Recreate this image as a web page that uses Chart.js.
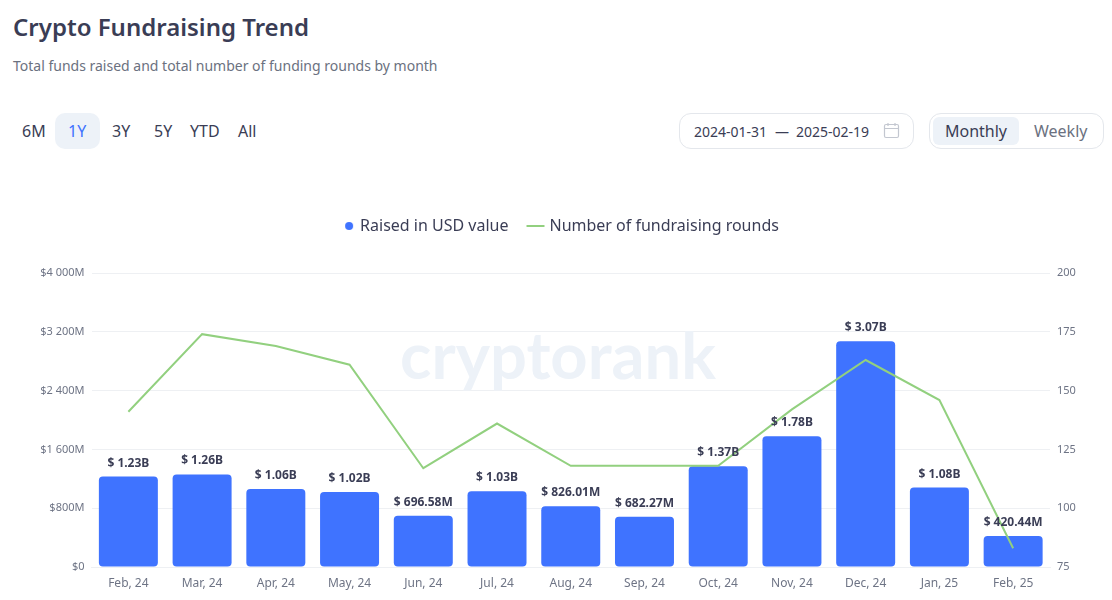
<!DOCTYPE html>
<html>
<head>
<meta charset="utf-8">
<title>Crypto Fundraising Trend</title>
<script src="https://cdn.jsdelivr.net/npm/chart.js@4"></script>
<style>
  html, body { margin: 0; padding: 0; background: #fff; }
  body { width: 1112px; height: 600px; position: relative; overflow: hidden; font-family: "Noto Sans", sans-serif; color: #3a3d55; }
  .abs { position: absolute; white-space: nowrap; }
  h1 { margin: 0; left: 13px; top: 10px; font-size: 24px; line-height: 33px; font-weight: 600; }
  .sub { left: 13px; top: 56px; font-size: 14px; line-height: 20px; color: #6b7180; }
  .range { top: 120px; font-size: 16px; line-height: 22px; }
  .active-bg { left: 55px; top: 113px; width: 45px; height: 36px; border-radius: 10px; background: #edf2f8; }
  .box { top: 113px; height: 34px; border: 1px solid #e4e7ec; border-radius: 12px; }
  .date { top: 122px; font-size: 14px; line-height: 19px; }
  .month-bg { left: 933px; top: 117px; width: 86px; height: 28px; border-radius: 6px; background: #edf2f8; }
  canvas { position: absolute; left: 0; top: 200px; }
</style>
</head>
<body>
  <h1 class="abs">Crypto Fundraising Trend</h1>
  <div class="abs sub">Total funds raised and total number of funding rounds by month</div>

  <div class="abs active-bg"></div>
  <span class="abs range" style="left:22px">6M</span>
  <span class="abs range" style="left:68px;color:#3f73ff">1Y</span>
  <span class="abs range" style="left:112px">3Y</span>
  <span class="abs range" style="left:154px">5Y</span>
  <span class="abs range" style="left:190px">YTD</span>
  <span class="abs range" style="left:238px">All</span>

  <div class="abs box" style="left:679px;width:233px"></div>
  <span class="abs date" style="left:694px">2024-01-31</span>
  <span class="abs date" style="left:775px">—</span>
  <span class="abs date" style="left:796px">2025-02-19</span>
  <svg class="abs" style="left:883px;top:122px" width="17" height="18" viewBox="0 0 17 18" fill="none" stroke="#c3c7d0" stroke-width="1.2">
    <rect x="1.5" y="2.5" width="14" height="13" rx="1.5"/>
    <path d="M1.5 6.5h14M5 1v3M12 1v3"/>
  </svg>

  <div class="abs box" style="left:929px;width:173px"></div>
  <div class="abs month-bg"></div>
  <span class="abs range" style="left:945px">Monthly</span>
  <span class="abs range" style="left:1034px;color:#6b7180">Weekly</span>

  <canvas id="fundingChart" width="1112" height="400"></canvas>

<script>
const categories = ["Feb, 24", "Mar, 24", "Apr, 24", "May, 24", "Jun, 24", "Jul, 24", "Aug, 24", "Sep, 24", "Oct, 24", "Nov, 24", "Dec, 24", "Jan, 25", "Feb, 25"];
const raisedMillions = [1230, 1260, 1060, 1020, 696.58, 1030, 826.01, 682.27, 1370, 1780, 3070, 1080, 420.44];
const raisedLabels = ["$ 1.23B", "$ 1.26B", "$ 1.06B", "$ 1.02B", "$ 696.58M", "$ 1.03B", "$ 826.01M", "$ 682.27M", "$ 1.37B", "$ 1.78B", "$ 3.07B", "$ 1.08B", "$ 420.44M"];
const roundCounts = [141, 174, 169, 161, 117, 136, 118, 118, 118, 142, 163, 146, 83];

const BLUE = "#3f73ff";
const GREEN = "#92d07f";
const DARK = "#3a3d55";
const MUTED = "#6e7485";
const GRID = "#eef0f3";

// legend markers, the built-in point styles can't size a circle and a line separately
function marker(draw) {
  const c = document.createElement("canvas");
  c.width = 30;
  c.height = 10;
  draw(c.getContext("2d"));
  return c;
}
const dotMarker = marker((g) => {
  g.fillStyle = BLUE;
  g.beginPath();
  g.arc(20, 5, 4, 0, Math.PI * 2);
  g.fill();
});
const lineMarker = marker((g) => {
  g.fillStyle = GREEN;
  g.fillRect(8, 4, 18, 2);
});

// extra room between the legend and the plot
const legendGap = {
  id: "legendGap",
  beforeInit(chart) {
    const fit = chart.legend.fit;
    chart.legend.fit = function () {
      fit.call(this);
      this.height += 29;
    };
  },
};

const watermark = {
  id: "watermark",
  beforeDatasetsDraw(chart) {
    const g = chart.ctx;
    g.save();
    g.fillStyle = "#edf2f8";
    g.font = "700 65px Lato";
    g.textAlign = "center";
    g.textBaseline = "middle";
    g.fillText("cryptorank", 558, 158);
    g.restore();
  },
};

const barLabels = {
  id: "barLabels",
  afterDatasetsDraw(chart) {
    const g = chart.ctx;
    g.save();
    g.fillStyle = DARK;
    g.font = "700 12px 'Noto Sans'";
    g.textAlign = "center";
    g.textBaseline = "alphabetic";
    chart.getDatasetMeta(1).data.forEach((bar, i) => {
      g.fillText(raisedLabels[i], bar.x, bar.y - 10);
    });
    g.restore();
  },
};

new Chart(document.getElementById("fundingChart"), {
  data: {
    labels: categories,
    datasets: [
      {
        type: "line",
        label: "Number of fundraising rounds",
        data: roundCounts,
        yAxisID: "yRounds",
        borderColor: GREEN,
        borderWidth: 2,
        pointRadius: 0,
        tension: 0,
        order: 1,
      },
      {
        type: "bar",
        label: "Raised in USD value",
        data: raisedMillions,
        yAxisID: "yRaised",
        backgroundColor: BLUE,
        borderRadius: 4,
        borderSkipped: false,
        barPercentage: 0.8,
        categoryPercentage: 1,
        order: 2,
      },
    ],
  },
  options: {
    responsive: false,
    animation: false,
    layout: { autoPadding: false, padding: { left: 3, top: 1, right: 0, bottom: 0 } },
    plugins: {
      tooltip: { enabled: false },
      legend: {
        position: "top",
        labels: {
          color: DARK,
          font: { family: "'Noto Sans'", size: 16 },
          usePointStyle: true,
          boxHeight: 10,
          padding: 17,
          generateLabels(chart) {
            return [
              { text: "Raised in USD value", pointStyle: dotMarker, datasetIndex: 1, fontColor: DARK, strokeStyle: "transparent", fillStyle: BLUE },
              { text: "Number of fundraising rounds", pointStyle: lineMarker, datasetIndex: 0, fontColor: DARK, strokeStyle: "transparent", fillStyle: GREEN },
            ];
          },
        },
      },
    },
    scales: {
      x: {
        grid: { display: false },
        border: { color: GRID },
        ticks: { color: MUTED, font: { family: "'Noto Sans'", size: 12 }, maxRotation: 0, autoSkip: false, padding: 1 },
        afterFit(axis) { axis.height = 33; },
      },
      yRaised: {
        position: "left",
        min: 0,
        max: 4000,
        grid: { color: GRID, drawTicks: false },
        border: { display: false },
        ticks: {
          stepSize: 800,
          color: MUTED,
          padding: 7,
          font: { family: "'Noto Sans'", size: 11 },
          callback: (v) => "$" + String(v).replace(/\B(?=(\d{3})+$)/g, " ") + (v ? "M" : ""),
        },
        afterFit(axis) { axis.width = 88.5; },
      },
      yRounds: {
        position: "right",
        min: 75,
        max: 200,
        grid: { display: false, drawTicks: false },
        border: { display: false },
        ticks: { stepSize: 25, color: MUTED, padding: 7, font: { family: "'Noto Sans'", size: 11 } },
        afterFit(axis) { axis.width = 62; },
      },
    },
  },
  plugins: [legendGap, watermark, barLabels],
});
</script>
</body>
</html>
